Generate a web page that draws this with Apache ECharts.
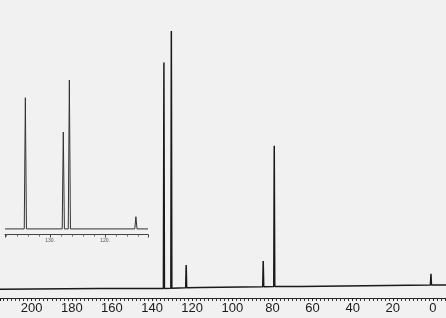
<!DOCTYPE html>
<html><head><meta charset="utf-8">
<script src="https://cdn.jsdelivr.net/npm/echarts@6/dist/echarts.min.js"></script>
<style>html,body{margin:0;padding:0;background:#f1f1f1}#c{width:446px;height:318px}</style>
</head><body><div id="c"></div>
<script>
// Main spectrum (ppm scale, relative intensity)
const axisTicks = [200,180,160,140,120,100,80,60,40,20,0];
const baselinePpm = [215.8, 166, 116, 66, -6.5];
const baselineVal = [2.9, 3.2, 3.5, 3.9, 4.4];
const peakPpm   = [134.1, 130.4, 123.0, 84.6, 79.1, 1.0];
const peakHeight= [79.0, 89.6, 11.1, 12.4, 51.1, 8.1];
const peakBase  = [3.2, 3.3, 3.4, 3.8, 3.9, 4.4];

// Inset (expanded region)
const insetLabels = ['130.', '120.'];
const insetLabelPpm = [130, 120];
const insetBasePpm = [138.2, 112.2];
const insetBaseVal = [3.2, 3.2];
const insetPeakPpm = [134.5, 127.6, 126.5, 114.4];
const insetPeakHeight = [78.4, 58.7, 88.5, 10.2];
const insetPeakBase = [3.2, 3.2, 3.2, 3.2];

function build(bp, bv, pp, ph, pb, w) {
  const pts = [];
  bp.forEach((p, i) => pts.push([p, bv[i]]));
  pp.forEach((p, i) => {
    pts.push([p + w, pb[i]]);
    pts.push([p, ph[i]]);
    pts.push([p - w, pb[i]]);
  });
  pts.sort((a, b) => b[0] - a[0]);
  return pts;
}

const chart = echarts.init(document.getElementById('c'), null, {renderer: 'canvas'});
chart.setOption({
  backgroundColor: '#f1f1f1',
  animation: false,
  grid: [
    {left: 0, right: 0, top: 0, bottom: 20},
    {left: 5, right: 298, top: 60, bottom: 83.5}
  ],
  xAxis: [
    {gridIndex: 0, type: 'value', inverse: true, min: -6.5, max: 215.8, splitNumber: 11,
     axisLine: {show: true, lineStyle: {color: '#222', width: 1}},
     axisTick: {show: true, length: 3, inside: false, lineStyle: {color: '#222'}},
     minorTick: {show: true, splitNumber: 10, length: 3, lineStyle: {color: '#333'}},
     splitLine: {show: false},
     axisLabel: {color: '#1a1a1a', fontSize: 13, fontFamily: 'Liberation Sans, Arial, sans-serif', margin: 4,
       showMinLabel: false, showMaxLabel: false,
       formatter: v => axisTicks.includes(Math.round(v)) ? String(Math.round(v)) : ''}},
    {gridIndex: 1, type: 'value', inverse: true, min: 112.2, max: 138.2, splitNumber: 3,
     axisLine: {show: true, lineStyle: {color: '#444', width: 1}},
     axisTick: {show: true, length: 3, lineStyle: {color: '#444'}},
     minorTick: {show: true, splitNumber: 5, length: 2, lineStyle: {color: '#666'}},
     splitLine: {show: false},
     axisLabel: {color: '#555', fontSize: 5, margin: 4, showMinLabel: false, showMaxLabel: false,
       formatter: v => { const i = insetLabelPpm.indexOf(Math.round(v)); return i >= 0 ? insetLabels[i] : ''; }}}
  ],
  yAxis: [
    {gridIndex: 0, type: 'value', min: 0, max: 100, show: false},
    {gridIndex: 1, type: 'value', min: 0, max: 100, show: false}
  ],
  series: [
    {type: 'line', xAxisIndex: 0, yAxisIndex: 0, showSymbol: false, symbol: 'none',
     lineStyle: {color: '#1a1a1a', width: 1.5},
     data: build(baselinePpm, baselineVal, peakPpm, peakHeight, peakBase, 0.25)},
    {type: 'line', xAxisIndex: 1, yAxisIndex: 1, showSymbol: false, symbol: 'none',
     lineStyle: {color: '#333', width: 1},
     data: build(insetBasePpm, insetBaseVal, insetPeakPpm, insetPeakHeight, insetPeakBase, 0.2)}
  ]
});
</script></body></html>
